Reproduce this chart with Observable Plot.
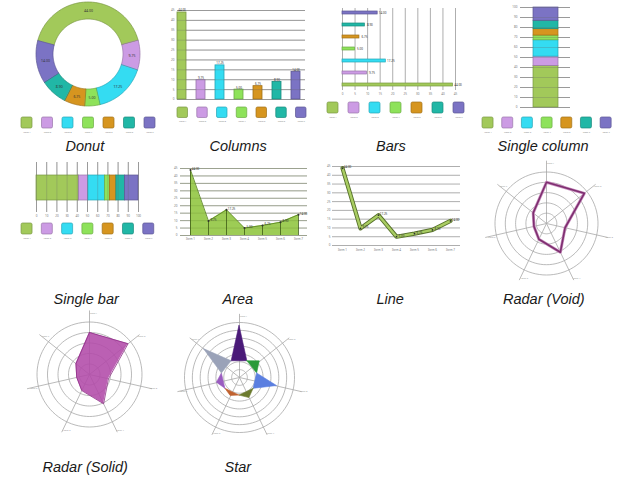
<!DOCTYPE html>
<html><head><meta charset="utf-8">
<script src="https://cdn.jsdelivr.net/npm/d3@7"></script>
<script src="https://cdn.jsdelivr.net/npm/@observablehq/plot@0.6"></script>
<style>
html,body{margin:0;padding:0;background:#fff;}
#root{position:relative;width:640px;height:480px;overflow:hidden;font-family:"Liberation Sans",Arial,sans-serif;}
#root > *{position:absolute;}
.cap{font-style:italic;font-size:14.5px;line-height:14.5px;color:#1a1a1a;white-space:nowrap;}
</style></head><body><div id="root"></div>
<script>
// ---- data ----
const items = ["Item 1", "Item 2", "Item 3", "Item 4", "Item 5", "Item 6", "Item 7"];
const values = [44, 9.75, 17.25, 5, 6.75, 8.9, 14];
const colors = ["#a2c95a", "#cc9be4", "#34dcf2", "#8ee25a", "#d6951f", "#21b7a6", "#7b73c4"];
const valueTicks = [0, 5, 10, 15, 20, 25, 30, 35, 40, 45];
const percentTicks = [0, 10, 20, 30, 40, 50, 60, 70, 80, 90, 100];
const radarValues = [4.0, 4.7, 1.85, 3.1, 1.7, 1.25, 1.65];
const starValues = [6.6, 3.3, 4.9, 2.9, 2.6, 2.95, 5.8];
const starColors = ["#4a1a78", "#2a9a3a", "#5b7fe0", "#6b7a2e", "#c0612f", "#9a5cc0", "#9aa2b8"];
const captions = ["Donut", "Columns", "Bars", "Single column", "Single bar", "Area", "Line", "Radar (Void)", "Radar (Solid)", "Star"];

// ---- helpers ----
const root = document.getElementById("root");
const dark = c => d3.color(c).darker(0.8).formatHex();
const total = d3.sum(values);
const rows = items.map((item, i) => ({i, item, value: values[i], share: values[i] / total * 100, color: colors[i], stroke: dark(colors[i])}));
const fmt = d => d.toFixed(2);
function place(el, left, top) { el.style.left = left + "px"; el.style.top = top + "px"; root.append(el); }
const baseStyle = {background: "transparent", overflow: "visible"};
const tickText = {fontSize: 3, tickSize: 0, fill: "#777", label: null};
const gridStyle = {stroke: "#999", strokeOpacity: 1, strokeWidth: 0.8};
const gridOver = {stroke: "#666", strokeOpacity: 0.35, strokeWidth: 0.8};

function legend(cx0, step, top, size) {
  const pad = size / 2 + 3;
  const el = Plot.plot({
    width: 6 * step + 2 * pad, height: size + 9, margin: 0, style: baseStyle,
    x: {domain: [0, 6], range: [pad, pad + 6 * step], axis: null},
    y: {domain: [0, 1], range: [size + 1, 1], axis: null},
    marks: [
      Plot.rect(rows, {x1: d => d.i - size / 2 / step, x2: d => d.i + size / 2 / step, y1: 0, y2: 1, fill: "color", stroke: "stroke", strokeWidth: 0.7, rx: 1.5}),
      Plot.text(rows, {x: "i", y: -0.35, text: "item", fontSize: 2.5, fill: "#888"})
    ]
  });
  place(el, cx0 - pad, top);
}

// ---- Donut ----
{
  const rIn = 35, rOut = 52;
  let acc = -values[0] / total * Math.PI;
  const arcRows = [], labelRows = [];
  rows.forEach(r => {
    const a0 = acc, a1 = acc + r.value / total * 2 * Math.PI; acc = a1;
    const n = Math.max(2, Math.ceil((a1 - a0) / 0.03));
    for (let k = 0; k <= n; k++) {
      const a = a0 + (a1 - a0) * k / n;
      arcRows.push({item: r.item, color: r.color, stroke: r.stroke,
        x1: rIn * Math.sin(a), y1: rIn * Math.cos(a), x2: rOut * Math.sin(a), y2: rOut * Math.cos(a)});
    }
    const m = (a0 + a1) / 2;
    labelRows.push({x: 43.5 * Math.sin(m), y: 43.5 * Math.cos(m), t: fmt(r.value)});
  });
  const el = Plot.plot({
    width: 110, height: 110, margin: 0, style: baseStyle,
    x: {domain: [-55, 55], axis: null}, y: {domain: [-55, 55], axis: null},
    marks: [
      Plot.area(arcRows, {x1: "x1", y1: "y1", x2: "x2", y2: "y2", z: "item", fill: "color", stroke: "stroke", strokeWidth: 0.7}),
      Plot.text(labelRows, {x: "x", y: "y", text: "t", fontSize: 3.5, fill: "#333"})
    ]
  });
  place(el, 33, -1);
  legend(26.5, 20.5, 116, 11);
}

// ---- Columns ----
{
  const el = Plot.plot({
    width: 150, height: 104, marginLeft: 17, marginRight: 5, marginTop: 10, marginBottom: 5, style: baseStyle,
    x: {domain: items, paddingInner: 0.52, paddingOuter: 0.02, align: 0, axis: null},
    y: {domain: [0, 45]},
    marks: [
      Plot.gridY(valueTicks, gridStyle),
      Plot.barY(rows, {x: "item", y: "value", fill: "color", stroke: "stroke", strokeWidth: 0.8}),
      Plot.gridY(valueTicks, gridOver),
      Plot.text(rows, {x: "item", y: "value", text: d => fmt(d.value), dy: -2, fontSize: 3, fill: "#333"}),
      Plot.axisY(valueTicks, {...tickText, tickPadding: 3})
    ]
  });
  place(el, 160, 0);
  legend(182, 19.75, 106, 10.5);
}

// ---- Bars ----
{
  const el = Plot.plot({
    width: 140, height: 100, marginLeft: 22, marginRight: 5, marginTop: 8, marginBottom: 10, style: baseStyle,
    x: {domain: [0, 45]},
    y: {domain: items.slice().reverse(), paddingInner: 0.72, paddingOuter: 0.04, axis: null},
    marks: [
      Plot.gridX(valueTicks, gridStyle),
      Plot.barX(rows, {y: "item", x: "value", fill: "color", stroke: "stroke", strokeWidth: 0.7}),
      Plot.text(rows, {y: "item", x: "value", text: d => fmt(d.value), dx: 5, fontSize: 3, fill: "#333"}),
      Plot.axisX(valueTicks, {...tickText, tickPadding: 2})
    ]
  });
  place(el, 320, 0);
  legend(332.5, 21, 101, 11);
}

// ---- Single column ----
{
  const el = Plot.plot({
    width: 100, height: 112, marginLeft: 40, marginRight: 10, marginTop: 7, marginBottom: 5, style: baseStyle,
    x: {domain: ["All"], paddingInner: 0.5, paddingOuter: 0.25, axis: null},
    y: {domain: [0, 100]},
    marks: [
      Plot.gridY(percentTicks, gridStyle),
      Plot.barY(rows, Plot.stackY({x: () => "All", y: "share", fill: "color", stroke: "stroke", strokeWidth: 0.7})),
      Plot.gridY(percentTicks, gridOver),
      Plot.axisY(percentTicks, {...tickText, tickPadding: 3})
    ]
  });
  place(el, 480, 0);
  legend(487.5, 19.7, 116, 11);
}

// ---- Single bar ----
{
  const el = Plot.plot({
    width: 160, height: 64, marginLeft: 36, marginRight: 22, marginTop: 7, marginBottom: 7, style: baseStyle,
    x: {domain: [0, 100]},
    y: {domain: ["All"], paddingInner: 0.5, paddingOuter: 0.25, axis: null},
    marks: [
      Plot.gridX(percentTicks, gridStyle),
      Plot.barX(rows, Plot.stackX({y: () => "All", x: "share", fill: "color", stroke: "stroke", strokeWidth: 0.7})),
      Plot.gridX(percentTicks, gridOver),
      Plot.axisX(percentTicks, {...tickText, tickPadding: 2})
    ]
  });
  place(el, 0, 155);
  legend(26.5, 20.3, 222, 11);
}

// ---- Area ----
{
  const el = Plot.plot({
    width: 155, height: 92, marginLeft: 20, marginRight: 8, marginTop: 13, marginBottom: 12, style: baseStyle,
    x: {type: "point", domain: items, padding: 0.38},
    y: {domain: [0, 45]},
    marks: [
      Plot.gridY(valueTicks, gridStyle),
      Plot.areaY(rows, {x: "item", y: "value", fill: "#9dcc55"}),
      Plot.gridY(valueTicks, {stroke: "#5a7a20", strokeOpacity: 0.35, strokeWidth: 0.6}),
      Plot.lineY(rows, {x: "item", y: "value", stroke: "#5f8a25", strokeWidth: 0.9}),
      Plot.ruleX(rows, {x: "item", y1: 0, y2: "value", stroke: "#3d5a15", strokeWidth: 0.8}),
      Plot.dot(rows, {x: "item", y: "value", r: 1, fill: "#333"}),
      Plot.text(rows, {x: "item", y: "value", text: d => fmt(d.value), dx: 5, dy: -1, fontSize: 3, fill: "#333"}),
      Plot.axisY(valueTicks, {...tickText, tickPadding: 3}),
      Plot.axisX({...tickText, tickPadding: 2})
    ]
  });
  place(el, 160, 155);
}

// ---- Line ----
{
  const el = Plot.plot({
    width: 150, height: 102, marginLeft: 12, marginRight: 10, marginTop: 11, marginBottom: 12, style: baseStyle,
    x: {type: "point", domain: items, padding: 0.42},
    y: {domain: [0, 45]},
    marks: [
      Plot.gridY(valueTicks, gridStyle),
      Plot.lineY(rows, {x: "item", y: "value", stroke: "#56702a", strokeWidth: 4.2}),
      Plot.lineY(rows, {x: "item", y: "value", stroke: "#a9cd62", strokeWidth: 2.4}),
      Plot.dot(rows, {x: "item", y: "value", r: 0.9, fill: "#333"}),
      Plot.text(rows, {x: "item", y: "value", text: d => fmt(d.value), dx: 5, dy: -1, fontSize: 3, fill: "#333"}),
      Plot.axisY(valueTicks, {...tickText, tickPadding: 2}),
      Plot.axisX({...tickText, tickPadding: 3})
    ]
  });
  place(el, 320, 155);
}

// ---- polar helpers ----
const nAx = items.length;
const ang = k => k * 2 * Math.PI / nAx;
function polarGrid(rings, axisR) {
  const ringRows = [];
  for (let j = 1; j <= rings; j++) for (let k = 0; k <= 90; k++) {
    const a = k * 2 * Math.PI / 90;
    ringRows.push({ring: j, x: j * Math.sin(a), y: j * Math.cos(a)});
  }
  const axRows = items.map((item, k) => ({item, x: axisR * Math.sin(ang(k)), y: axisR * Math.cos(ang(k)),
    lx: (axisR - 0.25) * Math.sin(ang(k)), ly: (axisR - 0.25) * Math.cos(ang(k))}));
  return [
    Plot.line(ringRows, {x: "x", y: "y", z: "ring", stroke: "#a8a8a8", strokeWidth: 0.8}),
    Plot.link(axRows, {x1: 0, y1: 0, x2: "x", y2: "y", stroke: "#a8a8a8", strokeWidth: 0.8}),
    Plot.text(axRows, {x: "lx", y: "ly", text: "item", dx: 4, fontSize: 2.5, fill: "#999"})
  ];
}
function polarPlot(ringPx, marks, left, top) {
  const D = 70 / ringPx;
  const el = Plot.plot({
    width: 140, height: 140, margin: 0, style: baseStyle,
    x: {domain: [-D, D], axis: null}, y: {domain: [-D, D], axis: null},
    marks
  });
  place(el, left, top);
}
const radarRows = radarValues.concat([radarValues[0]]).map((v, k) => ({x: v * Math.sin(ang(k)), y: v * Math.cos(ang(k))}));

// ---- Radar (Void) ----
polarPlot(10.3, [
  ...polarGrid(5, 6.1),
  Plot.line(radarRows, {x: "x", y: "y", stroke: "#c98fbf", strokeWidth: 3}),
  Plot.line(radarRows, {x: "x", y: "y", stroke: "#7e2f70", strokeWidth: 1.6})
], 476, 153);

// ---- Radar (Solid) ----
polarPlot(10.5, [
  ...polarGrid(5, 6.1),
  Plot.area(radarRows, {x1: "x", y1: "y", x2: 0, y2: 0, fill: "#b24aa8", fillOpacity: 0.88}),
  Plot.line(radarRows, {x: "x", y: "y", stroke: "#8e2f86", strokeWidth: 0.8})
], 19, 304);

// ---- Star ----
{
  const r0 = 2.3, half = Math.PI / nAx;
  const spikeRows = [];
  starValues.forEach((v, k) => {
    const a = ang(k), aL = a - half, aR = a + half;
    const L = [r0 * Math.sin(aL), r0 * Math.cos(aL)], R = [r0 * Math.sin(aR), r0 * Math.cos(aR)];
    const T = [v * Math.sin(a), v * Math.cos(a)], M = [(L[0] + R[0]) / 2, (L[1] + R[1]) / 2];
    const c = starColors[k];
    spikeRows.push({k, c, x1: L[0], y1: L[1], x2: L[0], y2: L[1]});
    spikeRows.push({k, c, x1: T[0], y1: T[1], x2: M[0], y2: M[1]});
    spikeRows.push({k, c, x1: R[0], y1: R[1], x2: R[0], y2: R[1]});
  });
  polarPlot(7.86, [
    ...polarGrid(7, 8.1),
    Plot.area(spikeRows, {x1: "x1", y1: "y1", x2: "x2", y2: "y2", z: "k", fill: "c", stroke: "c", strokeWidth: 0.6})
  ], 169, 307);
}

// ---- captions ----
const capPos = [[85, 138.7], [238, 138.7], [391, 138.7], [543, 138.7], [86, 292.2], [238, 292.2], [390, 292.2], [544, 292.2], [85, 459.7], [238, 459.7]];
captions.forEach((t, i) => {
  const d = document.createElement("div");
  d.className = "cap"; d.textContent = t;
  place(d, 0, capPos[i][1]);
  d.style.left = (capPos[i][0] - d.offsetWidth / 2) + "px";
});
</script></body></html>
